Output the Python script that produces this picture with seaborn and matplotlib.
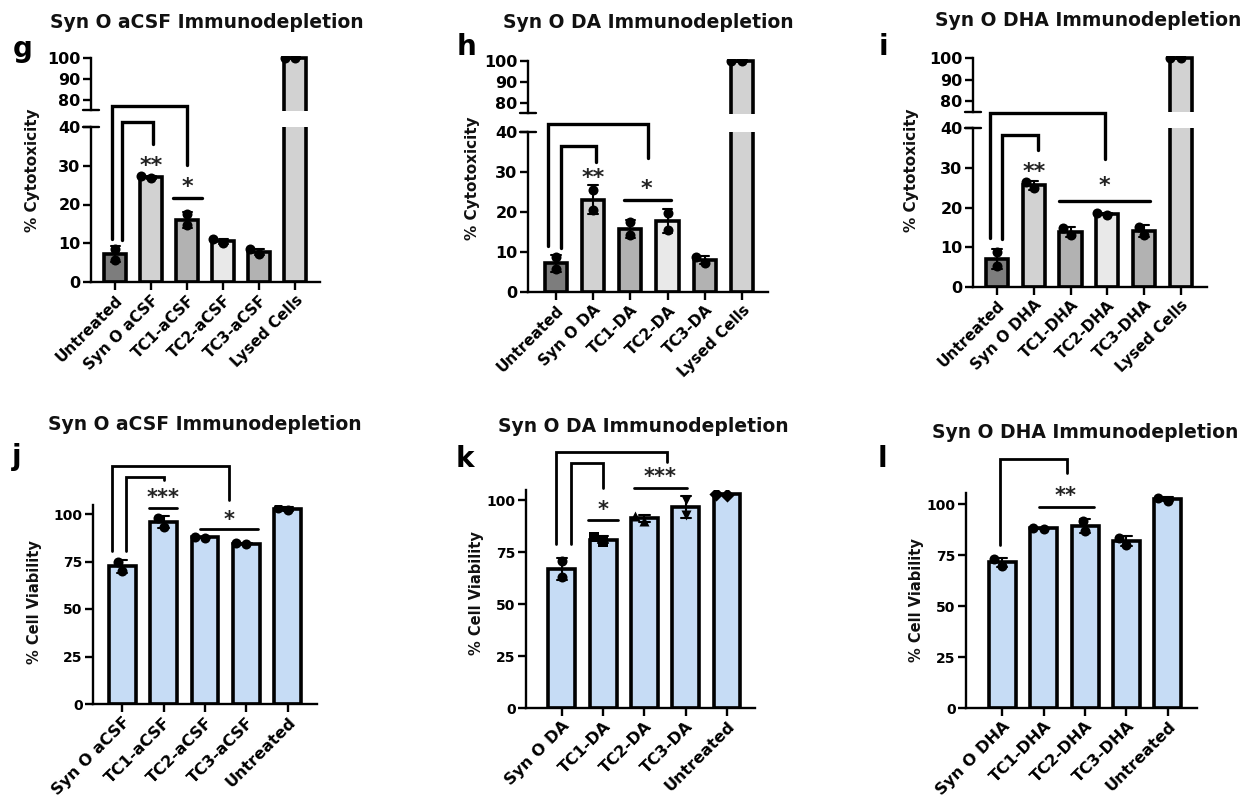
import matplotlib
matplotlib.use("Agg")
import matplotlib.pyplot as plt
import seaborn as sns
import pandas as pd

sns.set_theme(style="white")
plt.rcParams["font.family"] = ["DejaVu Sans"]
plt.rcParams["font.weight"] = "bold"

W, H = 1255, 801

# ---- cytotoxicity (top row), two replicates per group ----
g_groups = ["Untreated", "Syn O aCSF", "TC1-aCSF", "TC2-aCSF", "TC3-aCSF", "Lysed Cells"]
g_rep1 = [8.6, 26.8, 17.5, 10.1, 7.3, 99.8]
g_rep2 = [5.8, 27.3, 14.6, 11.0, 8.4, 100.2]

h_groups = ["Untreated", "Syn O DA", "TC1-DA", "TC2-DA", "TC3-DA", "Lysed Cells"]
h_rep1 = [8.7, 25.6, 17.4, 19.8, 7.3, 99.8]
h_rep2 = [5.7, 20.6, 14.2, 15.6, 8.7, 100.2]

i_groups = ["Untreated", "Syn O DHA", "TC1-DHA", "TC2-DHA", "TC3-DHA", "Lysed Cells"]
i_rep1 = [8.9, 24.8, 13.0, 18.2, 13.0, 99.8]
i_rep2 = [5.3, 26.4, 14.8, 18.6, 15.2, 100.2]

top_colors = ["#7d7d7d", "#d2d2d2", "#b2b2b2", "#e9e9e9", "#b2b2b2", "#d2d2d2"]

# ---- cell viability (bottom row) ----
j_groups = ["Syn O aCSF", "TC1-aCSF", "TC2-aCSF", "TC3-aCSF", "Untreated"]
j_rep1 = [75.0, 93.4, 87.5, 84.2, 102.0]
j_rep2 = [70.2, 97.8, 87.9, 84.6, 103.2]

k_groups = ["Syn O DA", "TC1-DA", "TC2-DA", "TC3-DA", "Untreated"]
k_rep1 = [70.5, 79.8, 90.0, 100.2, 102.4]
k_rep2 = [62.9, 82.0, 92.4, 93.0, 102.9]
k_markers = ["o", "s", "^", "v", "D"]

l_groups = ["Syn O DHA", "TC1-DHA", "TC2-DHA", "TC3-DHA", "Untreated"]
l_rep1 = [69.8, 87.8, 86.8, 80.0, 101.6]
l_rep2 = [73.0, 88.2, 91.6, 83.4, 103.0]

blue = "#c6dcf5"

# annotations: brackets (x1, x2, y_left, y_top, y_right), stars (text, x, y), lines (x1, x2, y)
top_panels = [
    dict(letter="g", title="Syn O aCSF Immunodepletion", groups=g_groups, rep1=g_rep1, rep2=g_rep2,
         box=(91, 320, 282, 127), upper=(110.5, 55.9), xlim=(-0.67, 5.69),
         title_xy=(207, 22), letter_xy=(13, 57), ylabel_xy=(33, 170),
         brackets=[(-0.1, 2.0, 11.2, 45.4, 30.2), (0.18, 1.05, 10.8, 41.4, 35.6)],
         stars=[("**", 1.0, 31.6), ("*", 2.0, 26.3)],
         lines=[(1.61, 2.42, 21.8)]),
    dict(letter="h", title="Syn O DA Immunodepletion", groups=h_groups, rep1=h_rep1, rep2=h_rep2,
         box=(528, 768, 292, 132), upper=(113.5, 58.9), xlim=(-0.75, 5.70),
         title_xy=(648, 22), letter_xy=(457, 55), ylabel_xy=(472, 178),
         brackets=[(-0.2, 2.48, 11.4, 41.9, 33.6), (0.15, 1.09, 11.1, 36.4, 32.5)],
         stars=[("**", 1.0, 30.0), ("*", 2.44, 27.25)],
         lines=[(1.83, 3.08, 23.1)]),
    dict(letter="i", title="Syn O DHA Immunodepletion", groups=i_groups, rep1=i_rep1, rep2=i_rep2,
         box=(973, 1207, 287, 128), upper=(111.75, 55.85), xlim=(-0.65, 5.71),
         title_xy=(1088, 20), letter_xy=(879, 55), ylabel_xy=(912, 170),
         brackets=[(-0.19, 2.95, 12.3, 43.8, 32.2), (0.14, 1.12, 12.1, 38.3, 34.4)],
         stars=[("**", 1.0, 30.6), ("*", 2.92, 27.0)],
         lines=[(1.69, 4.16, 21.7)]),
]

bottom_panels = [
    dict(letter="j", title="Syn O aCSF Immunodepletion", groups=j_groups, rep1=j_rep1, rep2=j_rep2,
         box=(93, 317, 704, 504.5), ylim=(0, 105), xlim=(-0.70, 4.70), markers=None,
         title_xy=(205, 425), letter_xy=(12, 465), ylabel_xy=(35, 602),
         brackets=[(-0.23, 2.59, 80.4, 125.2, 107.5), (0.1, 1.0, 80.4, 119.5, 118.1)],
         stars=[("***", 1.0, 111.4), ("*", 2.59, 99.6)],
         lines=[(0.65, 1.33, 103.2), (1.88, 3.27, 92.3)]),
    dict(letter="k", title="Syn O DA Immunodepletion", groups=k_groups, rep1=k_rep1, rep2=k_rep2,
         box=(526, 755, 708, 489.6), ylim=(0, 105), xlim=(-0.87, 4.68), markers=k_markers,
         title_xy=(643, 427), letter_xy=(456, 467), ylabel_xy=(477, 593),
         brackets=[(-0.15, 2.54, 78.9, 123.2, 118.4), (0.21, 0.99, 78.9, 117.9, 105.6)],
         stars=[("*", 0.99, 98.1), ("***", 2.39, 113.6)],
         lines=[(0.64, 1.37, 90.4), (1.75, 3.04, 105.6)]),
    dict(letter="l", title="Syn O DHA Immunodepletion", groups=l_groups, rep1=l_rep1, rep2=l_rep2,
         box=(966, 1197, 708, 492.8), ylim=(0, 105.5), xlim=(-0.87, 4.70), markers=None,
         title_xy=(1085, 433), letter_xy=(878, 467), ylabel_xy=(917, 600),
         brackets=[(-0.05, 1.56, 79.9, 121.9, 115.0)],
         stars=[("**", 1.54, 106.6)],
         lines=[(0.90, 2.22, 98.4)]),
]


def px_rect(left, right, bottom, top):
    return [left / W, 1 - bottom / H, (right - left) / W, (bottom - top) / H]


def fig_xy(x, y):
    return x / W, 1 - y / H


def style_axis(ax):
    for s in ["top", "right"]:
        ax.spines[s].set_visible(False)
    for s in ["left", "bottom"]:
        ax.spines[s].set_color("black")
        ax.spines[s].set_linewidth(1.7)
    ax.tick_params(axis="both", direction="out", length=6, width=1.7, color="black",
                   left=True, bottom=True, pad=1.5, labelcolor="black")
    ax.set_xlabel("")
    ax.set_ylabel("")
    ax.patch.set_visible(False)


def draw_bars(ax, groups, rep1, rep2, colors, width, markers=None):
    df = pd.DataFrame({"group": groups * 2, "value": rep1 + rep2})
    sns.barplot(data=df, x="group", y="value", hue="group", order=groups, hue_order=groups,
                palette=colors, saturation=1, legend=False, errorbar="sd", capsize=0.25,
                width=width, edgecolor="black", linewidth=2.6,
                err_kws={"color": "black", "linewidth": 1.5}, ax=ax)
    if markers is None:
        sns.swarmplot(data=df, x="group", y="value", order=groups, color="black",
                      size=7.2, zorder=4, ax=ax)
    else:
        for grp, m in zip(groups, markers):
            sns.swarmplot(data=df[df["group"] == grp], x="group", y="value", order=groups,
                          color="black", marker=m, size=7.2, zorder=4, ax=ax)


def annotate(ax, p, lw, star_fs):
    for x1, x2, yl, yt, yr in p["brackets"]:
        ax.plot([x1, x1, x2, x2], [yl, yt, yt, yr], color="black", lw=lw,
                clip_on=False, solid_joinstyle="miter", zorder=6)
    for x1, x2, y in p["lines"]:
        ax.plot([x1, x2], [y, y], color="black", lw=lw, clip_on=False, zorder=6)
    for s, x, y in p["stars"]:
        ax.annotate(s, (x, y), xytext=(0, -0.56 * star_fs), textcoords="offset points",
                    ha="center", va="baseline", fontsize=star_fs, fontweight="bold",
                    color="#222222", annotation_clip=False)


def labels(fig, p, ylabel, ylabel_fs):
    fig.text(*fig_xy(*p["title_xy"]), p["title"], ha="center", va="center",
             fontsize=13.5, fontweight="bold", color="#111111")
    fig.text(*fig_xy(*p["letter_xy"]), p["letter"], ha="left", va="baseline",
             fontsize=20, fontweight="bold", color="black")
    fig.text(*fig_xy(*p["ylabel_xy"]), ylabel, rotation=90, ha="center", va="center",
             fontsize=ylabel_fs, fontweight="bold", color="#111111")


fig = plt.figure(figsize=(W / 100, H / 100), dpi=100)

for p in top_panels:
    left, right, bottom, top = p["box"]
    up = fig.add_axes(px_rect(left, right, p["upper"][0], p["upper"][1]))
    ax = fig.add_axes(px_rect(left, right, bottom, top))
    ax.set_zorder(up.get_zorder() + 1)
    for a in (ax, up):
        draw_bars(a, p["groups"], p["rep1"], p["rep2"], top_colors, 0.6)
        style_axis(a)
        a.set_xlim(*p["xlim"])
    ax.set_ylim(0, 40)
    ax.set_yticks([0, 10, 20, 30, 40])
    ax.tick_params(axis="y", labelsize=11.5)
    ax.set_xticks(range(len(p["groups"])))
    ax.set_xticklabels(p["groups"], rotation=45, ha="right", rotation_mode="anchor", fontsize=11)
    ax.axhline(40, xmin=-0.035, xmax=0.035, color="black", lw=1.7, clip_on=False)

    up.set_ylim(75, 101)
    up.set_yticks([80, 90, 100])
    up.tick_params(axis="y", labelsize=11.5)
    up.spines["bottom"].set_visible(False)
    up.spines["left"].set_bounds(75, 100)
    up.set_xticks([])
    up.axhline(75, xmin=-0.035, xmax=0.035, color="black", lw=1.7, clip_on=False)

    annotate(ax, p, 2.4, 16)
    labels(fig, p, "% Cytotoxicity", 11)

for p in bottom_panels:
    left, right, bottom, top = p["box"]
    ax = fig.add_axes(px_rect(left, right, bottom, top))
    draw_bars(ax, p["groups"], p["rep1"], p["rep2"], [blue] * len(p["groups"]), 0.65,
              p["markers"])
    style_axis(ax)
    ax.set_xlim(*p["xlim"])
    ax.set_ylim(*p["ylim"])
    ax.set_yticks([0, 25, 50, 75, 100])
    ax.tick_params(axis="y", labelsize=10)
    ax.set_xticks(range(len(p["groups"])))
    ax.set_xticklabels(p["groups"], rotation=45, ha="right", rotation_mode="anchor",
                       fontsize=11.5)
    annotate(ax, p, 2.0, 15)
    labels(fig, p, "% Cell Viability", 10.5)

fig.savefig("out.png", dpi=100)
